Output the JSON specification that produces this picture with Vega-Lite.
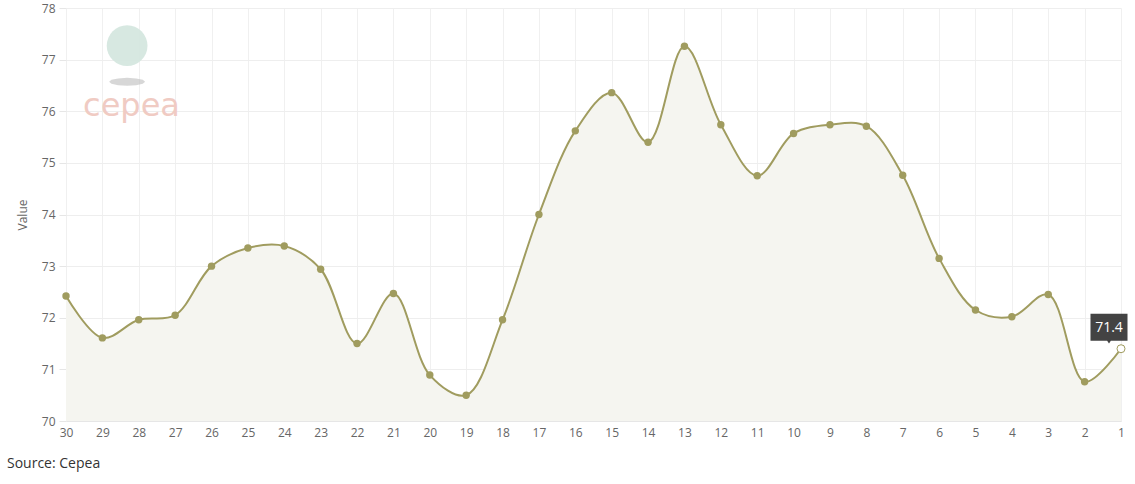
{
  "$schema": "https://vega.github.io/schema/vega-lite/v6.json",
  "width": 1055,
  "height": 413,
  "autosize": {"type": "none"},
  "padding": {"left": 66, "top": 8, "right": 14, "bottom": 63},
  "background": "white",
  "config": {"font": "Open Sans", "view": {"stroke": null}},
  "title": {"text": "Source: Cepea", "orient": "bottom", "anchor": "start", "frame": "group", "dx": -59, "offset": 19, "fontSize": 14, "fontWeight": "normal", "color": "#333333"},
  "datasets": {
    "prices": [
      {"day": 30, "value": 72.42}, {"day": 29, "value": 71.61}, {"day": 28, "value": 71.96},
      {"day": 27, "value": 72.05}, {"day": 26, "value": 73.0}, {"day": 25, "value": 73.35},
      {"day": 24, "value": 73.39}, {"day": 23, "value": 72.94}, {"day": 22, "value": 71.5},
      {"day": 21, "value": 72.47}, {"day": 20, "value": 70.89}, {"day": 19, "value": 70.5},
      {"day": 18, "value": 71.96}, {"day": 17, "value": 74.0}, {"day": 16, "value": 75.62},
      {"day": 15, "value": 76.36}, {"day": 14, "value": 75.4}, {"day": 13, "value": 77.26},
      {"day": 12, "value": 75.74}, {"day": 11, "value": 74.75}, {"day": 10, "value": 75.57},
      {"day": 9, "value": 75.74}, {"day": 8, "value": 75.71}, {"day": 7, "value": 74.76},
      {"day": 6, "value": 73.15}, {"day": 5, "value": 72.15}, {"day": 4, "value": 72.02},
      {"day": 3, "value": 72.45}, {"day": 2, "value": 70.76}, {"day": 1, "value": 71.4}
    ],
    "logo": [
      {"day": 28.32, "value": 77.27, "part": "globe", "label": ""},
      {"day": 28.32, "value": 76.57, "part": "shadow", "label": ""},
      {"day": 28.2, "value": 76.1, "part": "text", "label": "cepea"}
    ]
  },
  "data": {"name": "prices"},
  "encoding": {
    "x": {
      "field": "day", "type": "quantitative",
      "scale": {"domain": [30, 1], "nice": false, "zero": false},
      "axis": {
        "title": null, "values": [1,2,3,4,5,6,7,8,9,10,11,12,13,14,15,16,17,18,19,20,21,22,23,24,25,26,27,28,29,30],
        "format": "d", "labelColor": "#666666", "labelFontSize": 12, "ticks": false, "labelPadding": 6,
        "domainColor": "#e6e6e6", "gridColor": "#f0f0f0", "labelFlush": false
      }
    },
    "y": {
      "field": "value", "type": "quantitative",
      "scale": {"domain": [70, 78], "nice": false, "zero": false},
      "axis": {
        "title": "Value", "values": [70,71,72,73,74,75,76,77,78], "titleFontWeight": "normal", "titleColor": "#666666",
        "titleFontSize": 12, "labelColor": "#666666", "labelFontSize": 12, "tickColor": "#e6e6e6", "tickSize": 7,
        "labelPadding": 4, "domain": false, "gridColor": "#eeeeee", "titlePadding": 12
      }
    }
  },
  "layer": [
    {"mark": {"type": "area", "interpolate": "catmull-rom", "color": "#f5f5f0"}, "encoding": {"y2": {"datum": 70}}},
    {"data": {"name": "logo"}, "transform": [{"filter": "datum.part == 'shadow'"}], "mark": {"type": "point", "filled": true, "shape": "M1,0L0.87,0.11L0.5,0.19L0,0.22L-0.5,0.19L-0.87,0.11L-1,0L-0.87,-0.11L-0.5,-0.19L0,-0.22L0.5,-0.19L0.87,-0.11Z", "color": "#bdbdbd", "opacity": 0.6, "size": 1296}},
    {"data": {"name": "logo"}, "transform": [{"filter": "datum.part == 'globe'"}], "mark": {"type": "point", "filled": true, "shape": "circle", "color": "#d3e5de", "opacity": 0.9, "size": 1660}},
    {"data": {"name": "logo"}, "transform": [{"filter": "datum.part == 'text'"}], "mark": {"type": "text", "fontSize": 32, "color": "#f0cbc3", "font": "DejaVu Sans"}, "encoding": {"text": {"field": "label"}}},
    {"mark": {"type": "line", "interpolate": "catmull-rom", "color": "#a09c5f", "strokeWidth": 2}},
    {"transform": [{"filter": "datum.day != 1"}], "mark": {"type": "point", "filled": true, "color": "#a09c5f", "opacity": 1, "size": 55}},
    {"transform": [{"filter": "datum.day == 1"}], "mark": {"type": "point", "filled": true, "fill": "white", "stroke": "#a09c5f", "strokeWidth": 1, "opacity": 1, "size": 64}},
    {"transform": [{"filter": "datum.day == 1"}], "mark": {"type": "point", "filled": true, "shape": "M-1,-0.75L1,-0.75L1,0.7L0.1,0.7L0,0.85L-0.1,0.7L-1,0.7Z", "color": "#333333", "opacity": 0.92, "size": 1369, "xOffset": -12, "yOffset": -21}},
    {"transform": [{"filter": "datum.day == 1"}], "mark": {"type": "text", "color": "white", "fontSize": 14, "dx": -12, "dy": -21}, "encoding": {"text": {"field": "value", "type": "quantitative", "format": ".1f"}}}
  ]
}
